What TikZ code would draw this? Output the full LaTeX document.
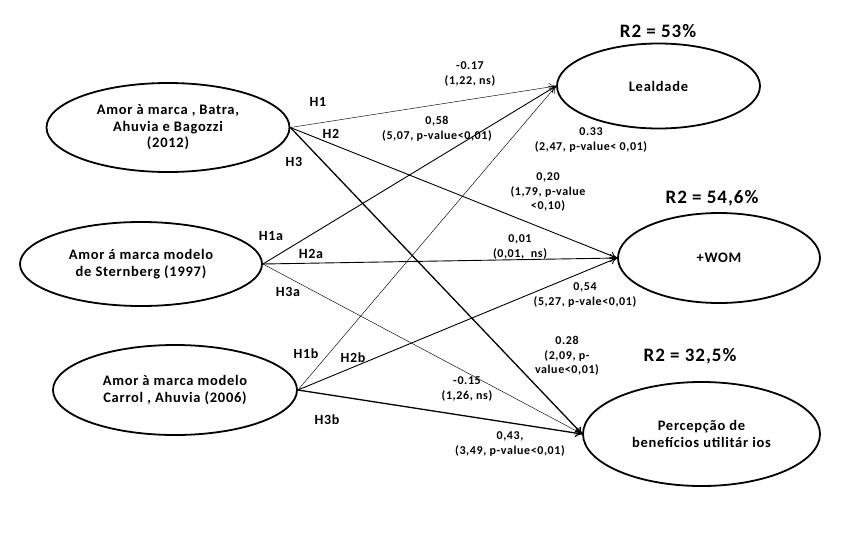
\documentclass[tikz,border=0pt]{standalone}
\usepackage{fontspec}
\setmainfont{Carlito}[LetterSpace=5]
\usetikzlibrary{shapes.geometric,arrows.meta}
\begin{document}
\begin{tikzpicture}[x=1pt,y=-1pt,
  construct/.style={draw,ellipse,line width=1.8pt,inner sep=0pt,align=center,font=\fontsize{14.5}{16.5}\selectfont\bfseries},
  hyp/.style={font=\fontsize{14}{14}\selectfont\bfseries},
  coef/.style={align=center,font=\fontsize{12}{14.5}\selectfont\bfseries},
  rsq/.style={font=\fontsize{19}{20}\selectfont\bfseries},
  path/.style={-{To[length=7pt,width=8pt]}},
  thinp/.style={path,line width=0.45pt},
  medp/.style={path,line width=0.9pt},
  thickp/.style={path,line width=1.3pt}]
\useasboundingbox (0,0) rectangle (861,536);
% constructs
\node[construct,minimum width=243,minimum height=89] (e1) at (168,127.5) {Amor à marca , Batra,\\Ahuvia e Bagozzi\\(2012)};
\node[construct,minimum width=242,minimum height=84] (e2) at (141,264) {Amor á marca modelo\\de Sternberg (1997)};
\node[construct,minimum width=244,minimum height=90] (e3) at (175,390) {Amor à marca modelo\\Carrol , Ahuvia (2006)};
\node[construct,minimum width=203,minimum height=85] (lea) at (658.5,86) {Lealdade};
\node[construct,minimum width=202,minimum height=90] (wom) at (719,258) {+WOM};
\node[construct,minimum width=237,minimum height=104] (per) at (701.5,434) {Percepção de\\benefícios utilitár ios};
% R2
\node[rsq] (r1) at (658,31) {R2 = 53\%};
\node[rsq] (r2) at (712,198) {R2 = 54,6\%};
\node[rsq] (r3) at (690,356) {R2 = 32,5\%};
% paths
\draw[thinp] (e1.east) -- (lea.west);
\draw[medp] (e1.east) -- (wom.west);
\draw[thickp] (e1.east) -- (per.west);
\draw[medp] (e2.east) -- (lea.west);
\draw[medp] (e2.east) -- (wom.west);
\draw[thinp] (e2.east) -- (per.west);
\draw[thinp] (e3.east) -- (lea.west);
\draw[medp] (e3.east) -- (wom.west);
\draw[thickp] (e3.east) -- (per.west);
% hypothesis labels
\node[hyp] (h1) at (318,102) {H1};
\node[hyp] (h2) at (331,134) {H2};
\node[hyp] (h3) at (294,162) {H3};
\node[hyp] (h1a) at (271,236) {H1a};
\node[hyp] (h2a) at (311,254) {H2a};
\node[hyp] (h3a) at (288,292) {H3a};
\node[hyp] (h1b) at (306,354) {H1b};
\node[hyp] (h2b) at (353,358) {H2b};
\node[hyp] (h3b) at (327,420) {H3b};
% coefficients
\node[coef] (c1) at (470,74) {-0.17\\(1,22, ns)};
\node[coef] (c2) at (437,129) {0,58\\(5,07, p-value<0,01)};
\node[coef] (c3) at (591,140) {0.33\\(2,47, p-value< 0,01)};
\node[coef] (c4) at (548,192) {0,20\\(1,79, p-value\\<0,10)};
\node[coef] (c5) at (520,247) {0,01\\(0,01,~ ns)};
\node[coef] (c6) at (585,295) {0,54\\(5,27, p-vale<0,01)};
\node[coef] (c7) at (567,356) {0.28\\(2,09, p-\\value<0,01)};
\node[coef] (c8) at (467,389) {-0.15\\(1,26, ns)};
\node[coef] (c9) at (510,444) {0,43,\\(3,49, p-value<0,01)};
\end{tikzpicture}
\end{document}
